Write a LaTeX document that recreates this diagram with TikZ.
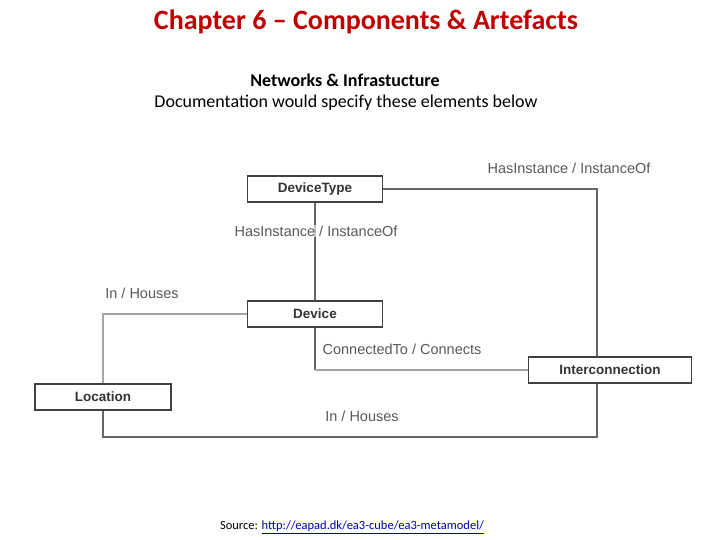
\documentclass[tikz,border=0pt]{standalone}
\usepackage{fontspec}
\setmainfont{Carlito}
\newfontfamily\arialf{Liberation Sans}
\definecolor{titlered}{HTML}{C00000}
\begin{document}
\begin{tikzpicture}[x=1pt,y=-1pt,
  ent/.style={draw=black!75,line width=1.6pt,fill=white,minimum width=135pt,minimum height=26pt,inner sep=0pt,font=\arialf\fontsize{13.5}{15}\selectfont\bfseries,text=black!80},
  conn/.style={draw=black!60,line width=1.4pt},
  connl/.style={draw=black!35,line width=1.4pt},
  lab/.style={font=\arialf\fontsize{14.5}{16}\selectfont,text=black!65,inner sep=1pt}]
\useasboundingbox (0,0) rectangle (720,540);
\node[font=\fontsize{28}{32}\selectfont\bfseries,text=titlered] (title) at (366,22) {Chapter 6 – Components \& Artefacts};
\node[font=\fontsize{18}{21}\selectfont\bfseries] (sub1) at (345,80) {Networks \& Infrastucture};
\node[font=\fontsize{18}{21}\selectfont] (sub2) at (346,103) {Documentation would specify these elements below};
\node[ent] (dt) at (315,189) {DeviceType};
\node[ent] (dev) at (315,314) {Device};
\node[ent,minimum width=136pt] (loc) at (103,397) {Location};
\node[ent,minimum width=163pt] (ic) at (610,370) {Interconnection};
\coordinate (c1) at (597,189);
\coordinate (c2) at (103,314);
\coordinate (c3) at (315,370);
\coordinate (c4) at (103,437);
\coordinate (c5) at (597,437);
\draw[conn] (dt.south) -- (dev.north);
\draw[conn] (dt.east) -- (c1) -- (c1 |- ic.north);
\draw[connl] (dev.west) -- (c2) -- (loc.north);
\draw[conn] (dev.south) -- (c3);
\draw[connl] (c3) -- (ic.west);
\draw[conn] (loc.south) -- (c4) -- (c5) -- (c5 |- ic.south);
\node[lab] (l1) at (569,168) {HasInstance / InstanceOf};
\node[lab,fill=white,fill opacity=0.6,text opacity=1] (l2) at (316,231) {HasInstance / InstanceOf};
\node[lab] (l3) at (142,293) {In / Houses};
\node[lab] (l4) at (402,349) {ConnectedTo / Connects};
\node[lab] (l5) at (362,416) {In / Houses};
\node[font=\fontsize{12.5}{14}\selectfont] (src) at (352,527) {Source: \textcolor{blue!70!black}{\underline{http://eapad.dk/ea3-cube/ea3-metamodel/}}};
\end{tikzpicture}
\end{document}
